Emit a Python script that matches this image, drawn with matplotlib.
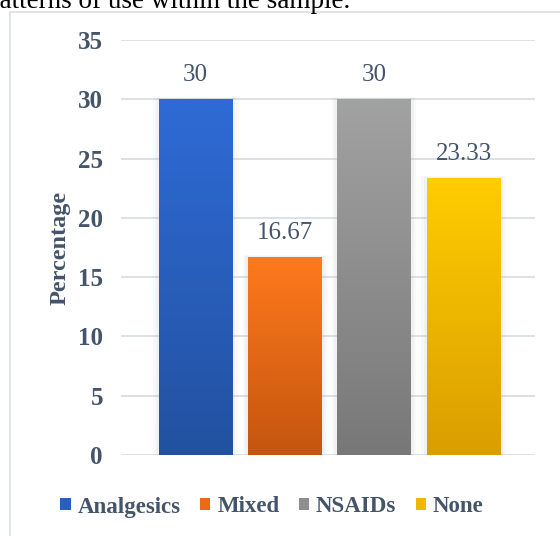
"""Bar chart of analgesic use patterns with gradient-filled bars."""

import matplotlib
matplotlib.use("Agg")
import matplotlib.pyplot as plt
import numpy as np
from matplotlib.colors import LinearSegmentedColormap
from matplotlib.patches import Patch, Rectangle

categories = ["Analgesics", "Mixed", "NSAIDs", "None"]
values = [30, 16.67, 30, 23.33]
value_labels = ["30", "16.67", "30", "23.33"]
y_ticks = [0, 5, 10, 15, 20, 25, 30, 35]

# (top, bottom) colours of each bar's vertical gradient
gradients = [
    ("#2F6BD6", "#2251A0"),
    ("#FF7A1C", "#C4550F"),
    ("#A2A2A2", "#787878"),
    ("#FFCD00", "#DA9E00"),
]
legend_colors = ["#2A5EC0", "#EA6A16", "#8E8E8E", "#F0B800"]

TEXT_COLOR = "#44546A"
GRID_COLOR = "#D9DEE6"
SERIF = ["Liberation Serif", "DejaVu Serif"]

W, H = 560, 536
fig = plt.figure(figsize=(W / 100, H / 100), dpi=100)

# light frame around the chart area (runs off the right and bottom edges)
frame = Rectangle((9.5 / W, -0.05), 1.0, 1 - 11.5 / H + 0.05,
                  transform=fig.transFigure, fill=False,
                  edgecolor="#DCDFE4", linewidth=1.2)
fig.add_artist(frame)

# tail of the surrounding paragraph text
fig.text(-13.5 / W, 1 - 8 / H, "patterns of use within the sample.",
         family=SERIF, fontsize=19.5, color="black", va="baseline", ha="left")

ax = fig.add_axes([121 / W, (H - 455) / H, (535 - 121) / W, (455 - 40) / H])
x = np.arange(len(categories))
ax.set_xlim(-0.834, 3.80)
ax.set_ylim(0, 35)

bar_width = 0.823
bars = ax.bar(x, values, width=bar_width, color="none", edgecolor="none", zorder=3)

grad = np.linspace(0, 1, 256).reshape(-1, 1)
for rect, (top, bottom) in zip(bars, gradients):
    x0, w, h = rect.get_x(), rect.get_width(), rect.get_height()
    # soft shadow around the bar
    for pad, alpha in [(0.06, 0.05), (0.035, 0.08)]:
        ax.add_patch(Rectangle((x0 - pad, 0), w + 2 * pad, h + pad * 3,
                               facecolor="#9A9A9A", alpha=alpha,
                               edgecolor="none", zorder=2))
    cmap = LinearSegmentedColormap.from_list("g", [bottom, top])
    im = ax.imshow(grad, cmap=cmap, aspect="auto", origin="lower",
                   extent=(x0, x0 + w, 0, h), zorder=3)
    im.set_clip_path(rect)

for xi, v, lab in zip(x, values, value_labels):
    ax.annotate(lab, (xi, v), xytext=(0, 24), textcoords="offset pixels",
                ha="center", va="center", family=SERIF, fontsize=18,
                color=TEXT_COLOR, zorder=4)

ax.set_xticks([])
ax.set_yticks(y_ticks)
ax.set_yticklabels([str(t) for t in y_ticks], family=SERIF, fontsize=18,
                   fontweight="bold", color=TEXT_COLOR)
ax.tick_params(axis="y", length=0, pad=13)
ax.yaxis.grid(True, color=GRID_COLOR, linewidth=1.3, zorder=0)
ax.set_axisbelow(True)
for spine in ax.spines.values():
    spine.set_visible(False)

ax.set_ylabel("Percentage", family=SERIF, fontsize=17.5, fontweight="bold",
              color=TEXT_COLOR, labelpad=5)

handles = [Patch(facecolor=c, edgecolor="none") for c in legend_colors]
fig.legend(handles, categories, loc="center", bbox_to_anchor=(272 / W, 29 / H),
           ncol=4, frameon=False, handlelength=0.45, handleheight=0.45,
           handletextpad=0.3, columnspacing=0.85,
           prop={"family": SERIF, "size": 16.5, "weight": "bold"},
           labelcolor=TEXT_COLOR)

fig.savefig("out.png", dpi=100)
